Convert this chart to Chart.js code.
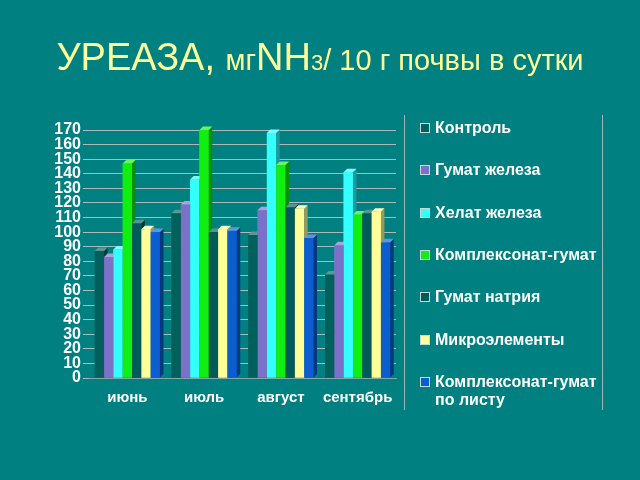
<!DOCTYPE html>
<html>
<head>
<meta charset="utf-8">
<script src="https://cdn.jsdelivr.net/npm/chart.js@4"></script>
<style>
    html, body { margin: 0; padding: 0; background: #008080; }
    #wrap { position: relative; width: 640px; height: 480px; overflow: hidden; }
    #title {
        position: absolute; left: 0; top: 37px; width: 640px; text-align: center; line-height: 40px;
        color: #ffff99; font-family: 'Liberation Sans', Arial, sans-serif; white-space: nowrap;
    }
    #title .big { font-size: 38px; }
    #title .mid { font-size: 29px; }
    #title .sm { font-size: 22px; }
    #legend {
        position: absolute; left: 404px; top: 115px; width: 197px; height: 295px;
        border-left: 1px solid #9cb8b8; border-right: 1px solid #9cb8b8;
        font-family: 'Liberation Sans', Arial, sans-serif; font-weight: bold; font-size: 16px; color: #fff;
    }
    #legend .item { position: absolute; left: 15px; line-height: 18px; padding-left: 15px; white-space: nowrap; }
    #legend .box {
        position: absolute; left: 0; top: 4px; width: 8px; height: 8px; border: 1px solid #c8d8d8;
    }
    canvas { position: absolute; left: 0; top: 0; }
</style>
</head>
<body>
<div id="wrap">
    <canvas id="chart" width="640" height="480"></canvas>
    <div id="title"><span class="big">УРЕАЗА, </span><span class="mid">мг</span><span class="big">NH</span><span class="sm">3</span><span class="mid">/ 10 г почвы в сутки</span></div>
    <div id="legend"></div>
</div>
<script>
// months
const months = ['июнь', 'июль', 'август', 'сентябрь'];

// series names
const seriesNames = [
    'Контроль',
    'Гумат железа',
    'Хелат железа',
    'Комплексонат-гумат',
    'Гумат натрия',
    'Микроэлементы',
    ['Комплексонат-гумат', 'по листу']
];

// values per series (июнь, июль, август, сентябрь)
const control = [87, 113, 98, 71];
const humateIron = [83, 119, 115, 91];
const chelateIron = [88, 136, 168, 141];
const complexHumate = [147, 170, 146, 112];
const humateSodium = [106, 100, 117, 113];
const microElements = [102, 102, 116, 114];
const complexLeaf = [100, 101, 96, 93];

const yTicks = [0, 10, 20, 30, 40, 50, 60, 70, 80, 90, 100, 110, 120, 130, 140, 150, 160, 170];

const seriesValues = [control, humateIron, chelateIron, complexHumate, humateSodium, microElements, complexLeaf];
const colors = ['#00605c', '#7b72c8', '#33ffff', '#11ee11', '#005a58', '#ffff99', '#0a5ed0'];

function shade(hex, k) {
    const n = parseInt(hex.slice(1), 16);
    let r = (n >> 16) & 255, g = (n >> 8) & 255, b = n & 255;
    const f = (c) => Math.max(0, Math.min(255, Math.round(k > 0 ? c + (255 - c) * k : c * (1 + k))));
    return 'rgb(' + f(r) + ',' + f(g) + ',' + f(b) + ')';
}

// pseudo-3D: redraw bars left to right with a side and top face
const bars3d = {
    id: 'bars3d',
    afterDatasetsDraw(chart) {
        const ctx = chart.ctx;
        const d = 3.5;
        const all = [];
        chart.data.datasets.forEach((ds, i) => {
            chart.getDatasetMeta(i).data.forEach((bar) => all.push({ bar, color: colors[i] }));
        });
        all.sort((a, b) => a.bar.x - b.bar.x);
        all.forEach(({ bar, color }) => {
            const l = bar.x - bar.width / 2, r = bar.x + bar.width / 2;
            const t = bar.y, b = bar.base;
            ctx.save();
            ctx.fillStyle = color;
            ctx.fillRect(l, t, r - l, b - t);
            ctx.fillStyle = shade(color, -0.4);
            ctx.beginPath();
            ctx.moveTo(r, t); ctx.lineTo(r + d, t - d); ctx.lineTo(r + d, b - d); ctx.lineTo(r, b);
            ctx.closePath(); ctx.fill();
            ctx.fillStyle = shade(color, 0.35);
            ctx.beginPath();
            ctx.moveTo(l, t); ctx.lineTo(r, t); ctx.lineTo(r + d, t - d); ctx.lineTo(l + d, t - d);
            ctx.closePath(); ctx.fill();
            ctx.restore();
        });
    }
};

const chart = new Chart(document.getElementById('chart'), {
    type: 'bar',
    data: {
        labels: months,
        datasets: seriesValues.map((vals, i) => ({
            label: Array.isArray(seriesNames[i]) ? seriesNames[i].join(' ') : seriesNames[i],
            data: vals,
            backgroundColor: colors[i],
            borderWidth: 0,
            categoryPercentage: 0.85,
            barPercentage: 1
        }))
    },
    options: {
        responsive: false,
        animation: false,
        layout: { padding: { left: 33, right: 244, top: 130, bottom: 62 } },
        plugins: { legend: { display: false }, tooltip: { enabled: false } },
        scales: {
            x: {
                grid: { display: false },
                border: { display: true, color: '#7fa8a8' },
                ticks: {
                    color: '#ffffff', padding: 3,
                    font: { family: "'Liberation Sans', Arial, sans-serif", size: 15, weight: 'bold' }
                },
                afterFit: (scale) => { scale.height = 40; }
            },
            y: {
                min: 0, max: 170,
                afterBuildTicks: (scale) => { scale.ticks = yTicks.map(v => ({ value: v })); },
                grid: { color: '#a8bcbc', lineWidth: 1, tickLength: 6 },
                border: { display: false },
                ticks: {
                    color: '#ffffff', padding: 2, autoSkip: false,
                    font: { family: "'Liberation Sans', Arial, sans-serif", size: 16, weight: 'bold', lineHeight: 1 }
                },
                afterFit: (scale) => { scale.width = 56; }
            }
        }
    },
    plugins: [bars3d]
});

// legend built from the series list
const legend = document.getElementById('legend');
seriesNames.forEach((name, i) => {
    const item = document.createElement('div');
    item.className = 'item';
    item.style.top = (4 + i * 42.3) + 'px';
    const box = document.createElement('span');
    box.className = 'box';
    box.style.background = colors[i];
    item.appendChild(box);
    const lines = Array.isArray(name) ? name : [name];
    lines.forEach((ln, j) => {
        if (j) item.appendChild(document.createElement('br'));
        item.appendChild(document.createTextNode(ln));
    });
    legend.appendChild(item);
});
</script>
</body>
</html>
